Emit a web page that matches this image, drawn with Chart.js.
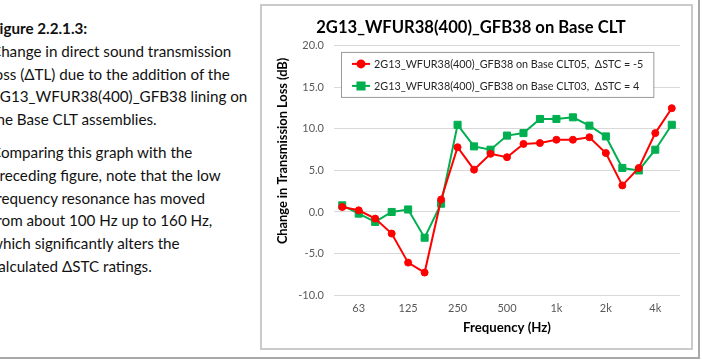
<!DOCTYPE html>
<html>
<head>
<meta charset="utf-8">
<script src="https://cdn.jsdelivr.net/npm/chart.js@4.4.1/dist/chart.umd.min.js"></script>
<style>
    body { margin: 0; width: 702px; height: 360px; overflow: hidden; background: #fff; font-family: Lato, "Open Sans", sans-serif; }
    #note { position: absolute; left: -9px; top: 17px; font-size: 15.2px; line-height: 22.8px; color: #111; white-space: nowrap; }
    #note p { margin: 0 0 10px 0; }
    #edgeR { position: absolute; left: 698px; top: 0; width: 2px; height: 359px; background: #a8a8a8; }
    #edgeB { position: absolute; left: 0; top: 357px; width: 700px; height: 2px; background: #a8a8a8; }
    #frame { position: absolute; left: 260px; top: 4px; width: 429px; height: 342px; border: 2px solid #cacaca; }
    #frame canvas { display: block; }
</style>
</head>
<body>
<div id="note">
    <p><b>Figure 2.2.1.3:</b><br>Change in direct sound transmission<br>loss (ΔTL) due to the addition of the<br>2G13_WFUR38(400)_GFB38 lining on<br>the Base CLT assemblies.</p>
    <p>Comparing this graph with the<br>preceding figure, note that the low<br>frequency resonance has moved<br>from about 100 Hz up to 160 Hz,<br>which significantly alters the<br>calculated ΔSTC ratings.</p>
</div>
<div id="edgeR"></div>
<div id="edgeB"></div>
<div id="frame"><canvas id="tlChart" width="429" height="342"></canvas></div>

<script>
// one-third octave bands, 50 Hz .. 5 kHz
var bands      = ['50','63','80','100','125','160','200','250','315','400','500','630','800','1k','1.25k','1.6k','2k','2.5k','3.15k','4k','5k'];
var tickLabels = ['63','125','250','500','1k','2k','4k'];

// change in TL (dB)
var clt05 = [0.6, 0.2, -0.8, -2.6, -6.1, -7.3, 1.5, 7.8, 5.1, 7.0, 6.6, 8.2, 8.3, 8.7, 8.7, 9.0, 7.1, 3.2, 5.3, 9.5, 12.5];
var clt03 = [0.8, -0.2, -1.2, 0.0, 0.3, -3.1, 1.0, 10.5, 7.9, 7.5, 9.2, 9.5, 11.2, 11.2, 11.4, 10.4, 9.1, 5.3, 5.0, 7.5, 10.5];

var label05 = '2G13_WFUR38(400)_GFB38 on Base CLT05,  \u0394STC = -5';
var label03 = '2G13_WFUR38(400)_GFB38 on Base CLT03,  \u0394STC = 4';

var FONT = 'Lato, "Open Sans", sans-serif';
var yTitle = 'Change in Transmission Loss (dB)';

// legend box sitting inside the plot, like the excel one
var boxLegend = {
    id: 'boxLegend',
    afterDatasetsDraw: function(chart) {
        var ctx = chart.ctx, a = chart.chartArea;
        var x = a.left + 7, y = a.top + 6;
        ctx.save();
        ctx.font = '10.8px ' + FONT;
        var w = 0;
        chart.data.datasets.forEach(function(d){ w = Math.max(w, ctx.measureText(d.label).width); });
        var bw = 33 + w + 10, bh = 45;
        ctx.fillStyle = '#fff';
        ctx.fillRect(x, y, bw, bh);
        ctx.strokeStyle = '#9a9a9a';
        ctx.lineWidth = 1;
        ctx.strokeRect(x + 0.5, y + 0.5, bw, bh);
        chart.data.datasets.forEach(function(d, i) {
            var ry = y + 12 + i * 22;
            ctx.strokeStyle = d.borderColor;
            ctx.lineWidth = 2;
            ctx.beginPath(); ctx.moveTo(x + 11, ry); ctx.lineTo(x + 29, ry); ctx.stroke();
            ctx.fillStyle = d.borderColor;
            Chart.helpers.drawPoint(ctx, { pointStyle: d.pointStyle, radius: d.pointRadius, borderWidth: 1 }, x + 20, ry);
            ctx.fillStyle = '#262626';
            ctx.textBaseline = 'middle';
            ctx.fillText(d.label, x + 33, ry + 0.5);
        });
        ctx.restore();
    },
    afterDraw: function(chart) {
        var ctx = chart.ctx, a = chart.chartArea;
        ctx.save();
        ctx.translate(21, a.top + 105);
        ctx.rotate(-Math.PI / 2);
        ctx.font = 'bold 12.8px ' + FONT;
        ctx.fillStyle = '#000';
        ctx.textAlign = 'center';
        ctx.textBaseline = 'middle';
        ctx.fillText(yTitle, 0, 0);
        ctx.restore();
    }
};

var tlChart = new Chart(document.getElementById('tlChart'), {
    type: 'line',
    data: {
        labels: bands,
        datasets: [
            { label: label05, data: clt05, borderColor: '#ff0000', backgroundColor: '#ff0000', borderWidth: 2,
              pointStyle: 'circle', pointRadius: 3.5, pointBorderWidth: 1, tension: 0 },
            { label: label03, data: clt03, borderColor: '#00b050', backgroundColor: '#00b050', borderWidth: 2,
              pointStyle: 'rect', pointRadius: 5, pointBorderWidth: 1, tension: 0 }
        ]
    },
    options: {
        responsive: false, animation: false,
        layout: { padding: { left: 0, right: 11, top: 0, bottom: 0 } },
        plugins: {
            legend: { display: false },
            tooltip: { enabled: false },
            title: { display: true, text: '2G13_WFUR38(400)_GFB38 on Base CLT', color: '#000',
                     font: { family: FONT, size: 16.6, weight: 'bold' }, padding: { top: 12, bottom: 8 } }
        },
        scales: {
            x: {
                offset: true,
                grid: { display: false, drawTicks: false },
                border: { display: false },
                ticks: { autoSkip: false, maxRotation: 0, padding: 7, color: '#595959', font: { family: FONT, size: 11 },
                         callback: function(v, i) { return tickLabels.indexOf(bands[i]) >= 0 ? bands[i] : ''; } },
                title: { display: true, text: 'Frequency (Hz)', color: '#000', font: { family: FONT, size: 13.2, weight: 'bold' },
                         padding: { top: 0, bottom: 12 } },
                afterFit: function(s) { s.height = 53; }
            },
            y: {
                min: -10, max: 20,
                grid: { color: '#d9d9d9', drawTicks: false },
                border: { display: false },
                ticks: { stepSize: 5, padding: 10, color: '#595959', font: { family: FONT, size: 11 },
                         callback: function(v) { return v.toFixed(1); } },
                afterFit: function(s) { s.width = 72; }
            }
        }
    },
    plugins: [boxLegend]
});
</script>
</body>
</html>
